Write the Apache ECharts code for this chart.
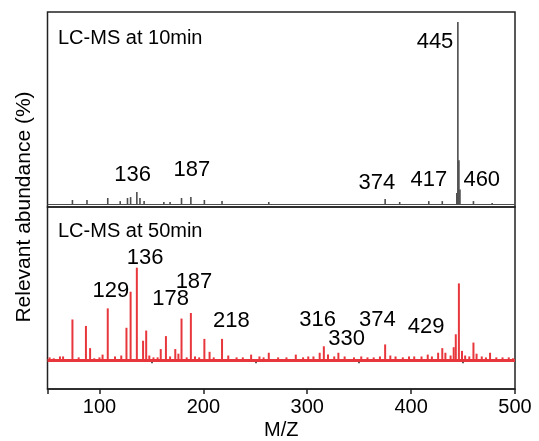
<!DOCTYPE html>
<html lang="en">
<head>
<meta charset="UTF-8">
<title>LC-MS</title>
<script src="https://cdn.jsdelivr.net/npm/echarts@6/dist/echarts.min.js"></script>
<style>
*{margin:0;padding:0;}
#main{width:539px;height:441px;}
</style>
</head>
<body>
<div id="main"></div>
<script>
// x axis ticks (m/z)
const xTicks = [50, 100, 200, 300, 400, 500];
const xMinorTicks = [150, 250, 350, 450];

// LC-MS at 10min: [m/z, relative abundance]
const peaks10 = [[74,2.2],[88,2.2],[108,3.3],[120,1.6],[127,3.3],[130,3.8],[136,6.6],[139,3.3],[143,1.6],
  [162,1.1],[168,1.1],[179,3.3],[188,3.8],[201,2.2],[218,1.6],[263,1.1],[375,2.7],[389,1.1],[417,1.6],
  [430,1.6],[444,6],[445,100],[446,24],[447,8],[460,1.6],[478,0.6]];
const labels10 = [[132,15.9,'136'],[189,18.7,'187'],[423,89,'445'],[367,11.3,'374'],[417,13.2,'417'],[468,13.2,'460']];

// LC-MS at 50min
const peaks50 = [[74,44],[87,37],[91,13],[103,6],[108,56],[126,35],[130,74],[136,100],[142,21],[145,32],
  [159,12],[164,26],[173,12],[179,45],[188,51],[201,23],[206,9],[218,23],[224,5],[246,6],[263,8],[289,6],
  [312,8],[316,15],[330,8],[375,17],[403,4],[416,6],[430,13],[443,28],[446,83],[460,19],[476,8]];
const noise50 = [[52,3],[56,2],[62,4],[65,4],[80,3],[95,2],[100,3],[115,4],[121,5],[148,5],[152,3],[156,3],
  [168,4],[176,7],[184,3],[192,4],[196,3],[210,3],[232,3],[238,3],[254,4],[258,3],[272,3],[280,3],[296,3],
  [301,4],[306,4],[320,6],[326,4],[336,4],[345,3],[352,4],[358,3],[364,3],[370,4],[380,5],[385,4],[392,3],
  [398,4],[410,4],[420,4],[426,8],[433,8],[438,5],[441,14],[449,10],[452,5],[456,4],[463,7],[468,4],
  [472,3],[482,3],[488,3],[494,3],[498,2]];
const labels50 = [[144,110.8,'136'],[111,75.3,'129'],[191,85,'187'],[168.5,66.7,'178'],[227,42,'218'],
  [310,44,'316'],[338,22.6,'330'],[367.5,43,'374'],[414.5,35.5,'429']];

const font = '"Liberation Sans", Arial, sans-serif';
const grey = '#4d4d4d';
const red = '#e8373c';

let chart = echarts.init(document.getElementById('main'));

function baseline(color, width) {
    return {
        silent: true,
        symbol: ['none', 'none'],
        label: {show: false},
        lineStyle: {color: color, width: width, type: 'solid'},
        data: [{yAxis: 0}]
    };
}

function labelSeries(data, idx) {
    return {
        type: 'scatter',
        xAxisIndex: idx,
        yAxisIndex: idx,
        symbolSize: 0,
        itemStyle: {color: '#000', opacity: 1},
        data: data,
        label: {
            show: true,
            position: 'inside',
            formatter: p => p.data[2],
            fontSize: 22,
            fontFamily: font,
            color: '#000',
            opacity: 1,
            textBorderWidth: 0
        },
        z: 5
    };
}

let option = {
    animation: false,
    backgroundColor: '#fff',
    title: [
        {text: 'LC-MS at 10min', left: 58, top: 28, padding: 0,
         textStyle: {fontSize: 20, fontWeight: 'normal', fontFamily: font, color: '#000'}},
        {text: 'LC-MS at 50min', left: 58, top: 221, padding: 0,
         textStyle: {fontSize: 20, fontWeight: 'normal', fontFamily: font, color: '#000'}}
    ],
    grid: [
        {left: 47.5, right: 24, top: 12, height: 195, show: true, borderColor: '#222', borderWidth: 1.5},
        {left: 47.5, right: 24, top: 207, height: 183, show: true, borderColor: '#222', borderWidth: 1.5}
    ],
    xAxis: [
        {gridIndex: 0, type: 'value', min: 50, max: 500, show: false},
        {
            gridIndex: 1, type: 'value', min: 50, max: 500,
            name: 'M/Z', nameLocation: 'middle', nameGap: 31,
            nameTextStyle: {fontSize: 20, fontFamily: font, color: '#000'},
            axisLine: {show: true, onZero: false, lineStyle: {color: '#222', width: 1.5}},
            axisTick: {show: true, customValues: xTicks, length: 5, lineStyle: {color: '#222', width: 1.5}},
            axisLabel: {customValues: xTicks.slice(1), fontSize: 20, fontFamily: font, color: '#000', margin: 8},
            splitLine: {show: false}
        },
        {
            gridIndex: 1, type: 'value', min: 50, max: 500, position: 'bottom',
            axisLine: {show: false},
            axisTick: {show: true, customValues: xMinorTicks, length: 3, lineStyle: {color: '#222', width: 1.5}},
            axisLabel: {show: false},
            splitLine: {show: false}
        }
    ],
    yAxis: [
        {gridIndex: 0, type: 'value', min: -1.65, max: 105.5, show: false},
        {gridIndex: 1, type: 'value', min: -31.2, max: 165.6, show: false}
    ],
    graphic: [{
        type: 'text',
        x: 24,
        y: 207,
        rotation: Math.PI / 2,
        style: {
            text: 'Relevant abundance (%)',
            font: '21px ' + font,
            fill: '#000',
            textAlign: 'center',
            textVerticalAlign: 'middle'
        }
    }],
    series: [
        {
            type: 'bar',
            xAxisIndex: 0,
            yAxisIndex: 0,
            barWidth: 1.6,
            itemStyle: {color: grey},
            data: peaks10,
            markLine: baseline(grey, 1.2)
        },
        {
            type: 'bar',
            xAxisIndex: 1,
            yAxisIndex: 1,
            barWidth: 2,
            itemStyle: {color: red},
            data: peaks50.concat(noise50),
            markLine: baseline(red, 3)
        },
        labelSeries(labels10, 0),
        labelSeries(labels50, 1)
    ]
};

chart.setOption(option);
</script>
</body>
</html>
